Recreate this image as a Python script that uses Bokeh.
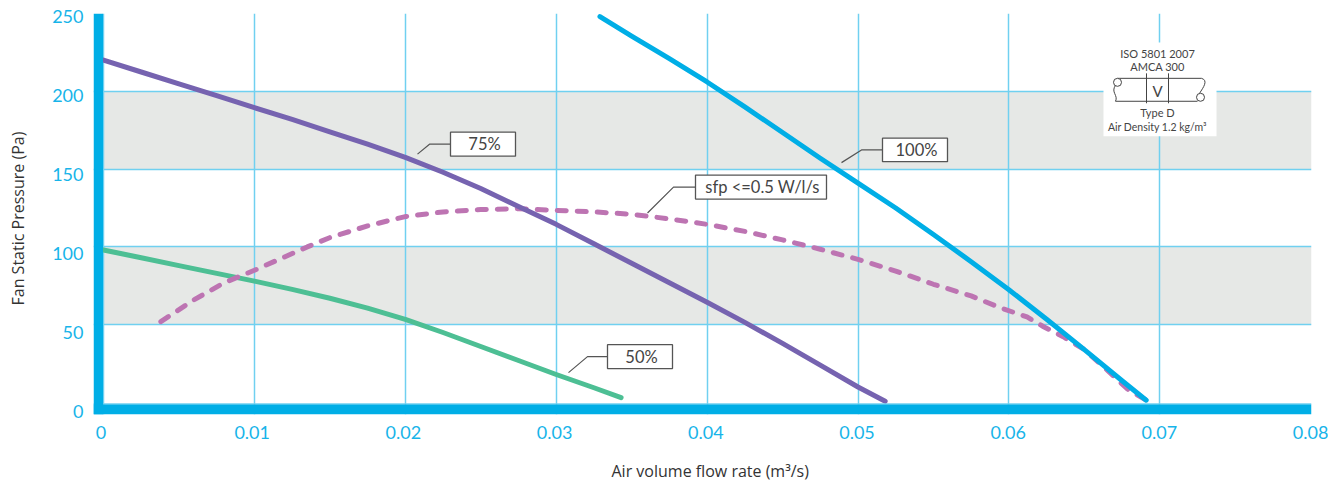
from bokeh.plotting import figure
from bokeh.embed import file_html
from bokeh.resources import INLINE
from bokeh.core.properties import value
from bokeh.models import Range1d, LinearAxis, Grid, FixedTicker, Title

# ---- data ----
flow_ticks = [0, 0.01, 0.02, 0.03, 0.04, 0.05, 0.06, 0.07, 0.08]
flow_labels = ["0", "0.01", "0.02", "0.03", "0.04", "0.05", "0.06", "0.07", "0.08"]
pressure_ticks = [0, 50, 100, 150, 200, 250]
pressure_labels = ["0", "50", "100", "150", "200", "250"]

q50 = [0, 0.0025, 0.005, 0.0075, 0.01, 0.0125, 0.015, 0.0175, 0.02, 0.0225, 0.025, 0.0275, 0.03, 0.0325, 0.0343]
p50 = [98, 93, 88, 83, 78, 72.7, 67, 60.7, 53.5, 45, 36, 27, 18, 9.5, 3.2]

q75 = [0, 0.0025, 0.005, 0.0075, 0.01, 0.0125, 0.015, 0.0175, 0.02, 0.0225, 0.025, 0.0275, 0.03, 0.0325, 0.035,
       0.0375, 0.04, 0.0425, 0.045, 0.0475, 0.05, 0.0518]
p75 = [220, 212.4, 204.8, 197.2, 189.5, 181.9, 174, 166, 157.5, 148, 137.5, 126, 114.5, 102, 89.5,
       77, 64.5, 51.5, 38, 24, 10, 0.8]

q100 = [0.0329, 0.035, 0.0375, 0.04, 0.0425, 0.045, 0.0475, 0.05, 0.0525, 0.055, 0.0575, 0.06, 0.0625, 0.065, 0.0675, 0.0691]
p100 = [248, 235.5, 221, 206, 190, 173.5, 157, 141, 125, 108, 90.5, 72.5, 53.5, 34, 14, 1.5]

qsfp = [0.0038, 0.006, 0.008, 0.01, 0.0135, 0.015, 0.0175, 0.02, 0.0225, 0.025, 0.0275, 0.03, 0.0325, 0.035, 0.0375,
        0.04, 0.0425, 0.045, 0.0475, 0.05, 0.0525, 0.055, 0.0575, 0.0594, 0.0612, 0.0623, 0.0636, 0.065, 0.0665, 0.0679, 0.0691]
psfp = [52, 66, 77, 85, 100, 106, 113.5, 119.5, 122.5, 124, 124.5, 123.5, 122.5, 121, 118,
        114.5, 110, 104.5, 98.5, 92, 84.5, 76, 68.5, 61, 55, 48.7, 42.3, 34, 21, 8.3, 1.5]

bands_bottom = [50, 150]
bands_top = [100, 200]
grid_x = [0, 0.01, 0.02, 0.03, 0.04, 0.05, 0.06, 0.07]
grid_y = [50, 100, 150, 200]

CYAN = "#00aee6"
TICKC = "#17b4e9"
GRIDC = "#70d0f0"
FONT = "Lato"
TITLE_FONT = "Open Sans"


def X(px):
    return (px - 103) / 15090


def Y(py):
    return (403 - py) / 1.56


p = figure(width=1328, height=485, output_backend="svg", toolbar_location=None,
           x_range=Range1d(X(93), X(1311)), y_range=Range1d(Y(415), Y(13)),
           x_axis_location=None, y_axis_location=None,
           min_border_left=93, min_border_right=17, min_border_top=13, min_border_bottom=70)
p.outline_line_color = None
p.xgrid.visible = False
p.ygrid.visible = False

# tick labels sit on a slightly different scale from the grid in the reference
p.extra_x_ranges["lab"] = Range1d((93 - 100.5) / 15120, (1311 - 100.5) / 15120)
p.extra_y_ranges["lab"] = Range1d((411.5 - 415) / 1.582, (411.5 - 13) / 1.582)

xa = LinearAxis(x_range_name="lab", ticker=FixedTicker(ticks=flow_ticks),
                major_label_overrides=dict(zip(flow_ticks, flow_labels)))
ya = LinearAxis(y_range_name="lab", ticker=FixedTicker(ticks=pressure_ticks),
                major_label_overrides=dict(zip(pressure_ticks, pressure_labels)))
for ax in (xa, ya):
    ax.axis_line_color = None
    ax.major_tick_line_color = None
    ax.minor_tick_line_color = None
    ax.major_label_text_color = TICKC
    ax.major_label_text_font = FONT
    ax.major_label_text_font_size = "18px"
xa.major_label_standoff = 5
ya.major_label_standoff = 4
p.add_layout(xa, "below")
p.add_layout(ya, "left")

# blank spacer panels between the tick labels and the axis titles
p.add_layout(Title(text="\u00a0", standoff=2, text_font_size="8px"), "below")
p.add_layout(Title(text="\u00a0", standoff=8, text_font_size="8px"), "left")

p.add_layout(Title(text="Air volume flow rate (m\u00b3/s)", align="left", offset=518, standoff=7,
                   text_color="#333333", text_font=TITLE_FONT, text_font_size="16px", text_font_style="normal"), "below")
p.add_layout(Title(text="Fan Static Pressure (Pa)", align="left", offset=109, standoff=4,
                   text_color="#333333", text_font=TITLE_FONT, text_font_size="16px", text_font_style="normal"), "left")

p.add_layout(Grid(dimension=0, ticker=FixedTicker(ticks=grid_x), grid_line_color=GRIDC, grid_line_width=1.5))
p.add_layout(Grid(dimension=1, ticker=FixedTicker(ticks=grid_y), grid_line_color=GRIDC, grid_line_width=1.5))

# shaded bands
p.quad(left=0, right=X(1311), bottom=bands_bottom, top=bands_top, fill_color="#e6e8e6", line_color=None, level="image")

# curves
p.line(q50, p50, line_color="#4dbf94", line_width=5, line_cap="round", line_join="round")
p.line(qsfp, psfp, line_color="#bd74b2", line_width=5, line_dash="9 11", line_cap="round", line_join="round")
p.line(q75, p75, line_color="#7663b0", line_width=5, line_cap="round", line_join="round")
p.line(q100, p100, line_color=CYAN, line_width=5, line_cap="round", line_join="round")

# thick axis bars
p.line([X(93), X(1311)], [Y(404.5), Y(404.5)], line_color=GRIDC, line_width=1.5)
p.quad(left=[X(93), X(93)], right=[X(102.5), X(1311)], bottom=[Y(415), Y(415)], top=[Y(13), Y(405)],
       fill_color=CYAN, line_color=None)


def callout(text, x0, x1, y0, y1, tip, elbow):
    ym = (y0 + y1) / 2
    p.line([X(tip[0]), X(elbow), X(x0)], [Y(tip[1]), Y(ym), Y(ym)], line_color="#555555", line_width=1.2)
    p.quad(left=[X(x0)], right=[X(x1)], bottom=[Y(y1)], top=[Y(y0)], fill_color="white",
           line_color="#555555", line_width=1.3)
    p.text([X((x0 + x1) / 2 + 1.5)], [Y(ym)], text=[text], text_align="center", text_baseline="middle",
           text_color="#444444", text_font=value(FONT), text_font_size="16.5px")


callout("75%", 450, 515, 132, 156, (417, 154), 429)
callout("100%", 882, 947, 138, 161.5, (841, 162.5), 861)
callout("sfp <=0.5 W/l/s", 695, 826, 175, 199, (647, 213), 673)
callout("50%", 607, 672, 345, 369, (568, 373), 587)

# standards inset
p.quad(left=[X(1103)], right=[X(1216)], bottom=[Y(136)], top=[Y(42)], fill_color="white", line_color=None)
for t, py, size in [("ISO 5801 2007", 53, "11px"), ("AMCA 300", 66, "11px"), ("V", 90.5, "15px"),
                    ("Type D", 112, "11px"), ("Air Density 1.2 kg/m\u00b3", 127, "10.5px")]:
    p.text([X(1157)], [Y(py)], text=[t], text_align="center", text_baseline="middle",
           text_color="#444444", text_font=value(FONT), text_font_size=size)
INK = "#444444"
for xs, ys in [([1117, 1201], [78, 78]), ([1115, 1197], [101, 101]), ([1146, 1146], [73, 103]), ([1168, 1168], [73, 103])]:
    p.line([X(v) for v in xs], [Y(v) for v in ys], line_color=INK, line_width=1)
p.bezier(x0=[X(1115)], y0=[Y(85)], x1=[X(1115)], y1=[Y(101)], cx0=[X(1110)], cy0=[Y(92)], cx1=[X(1118)], cy1=[Y(95)],
         line_color=INK, line_width=1)
p.bezier(x0=[X(1201)], y0=[Y(78)], x1=[X(1199)], y1=[Y(93)], cx0=[X(1208)], cy0=[Y(80)], cx1=[X(1203)], cy1=[Y(87)],
         line_color=INK, line_width=1)
p.scatter([X(1117), X(1200)], [Y(82), Y(97)], size=8, marker="circle", fill_color="white", line_color=INK, line_width=1)

open("out.html", "w").write(file_html(p, INLINE))
